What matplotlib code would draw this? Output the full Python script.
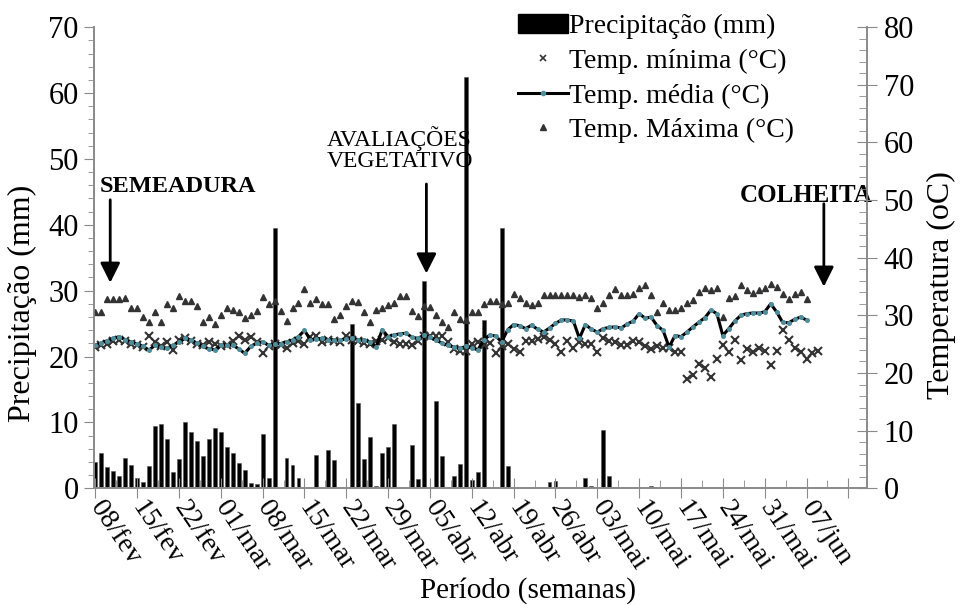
import numpy as np
import matplotlib
matplotlib.use('Agg')
import matplotlib.pyplot as plt
from matplotlib.lines import Line2D
from matplotlib.patches import Patch

plt.rcParams['font.family'] = ['Liberation Serif', 'DejaVu Serif']

# weekly labels, first day = 08/fev
week_labels = ['08/fev', '15/fev', '22/fev', '01/mar', '08/mar', '15/mar',
               '22/mar', '29/mar', '05/abr', '12/abr', '19/abr', '26/abr',
               '03/mai', '10/mai', '17/mai', '24/mai', '31/mai', '07/jun']

# daily precipitation (mm), day 0 = 08/fev
precip_mm = [4.0, 5.3, 3.2, 2.6, 1.9, 4.6, 3.5, 1.6, 1.0, 3.4,
             9.5, 9.8, 7.4, 2.5, 4.5, 10.1, 8.6, 7.1, 4.9, 7.4,
             9.2, 8.6, 6.2, 5.3, 3.9, 2.8, 0.8, 0.7, 8.2, 1.6,
             39.5, 0, 4.6, 3.5, 1.6, 0, 0, 5.1, 0, 5.8,
             4.3, 0, 0, 25.0, 12.9, 4.5, 7.8, 0.3, 5.3, 6.2,
             9.8, 0, 0, 6.5, 1.4, 31.5, 0, 13.3, 4.9, 0,
             1.9, 3.7, 62.5, 1.3, 2.4, 25.6, 0, 0, 39.5, 3.4,
             0, 0, 0, 0, 0, 0, 1.0, 1.1, 0, 0,
             0, 0, 1.6, 0.35, 0, 8.9, 1.9, 0, 0, 0,
             0, 0, 0, 0.35]

# daily temperatures (C)
temp_min = [24.5, 24.8, 25.0, 25.5, 25.8, 25.5, 25.0, 24.8, 24.5, 26.5,
            25.4, 24.6, 25.4, 24.0, 25.8, 26.0, 25.5, 25.0, 24.8, 25.4,
            25.0, 24.6, 24.8, 25.6, 26.5, 25.8, 26.3, 25.4, 23.4, 24.6,
            25.0, 24.8, 24.4, 25.2, 25.6, 25.0, 26.3, 26.5, 25.4, 25.8,
            25.5, 25.3, 26.5, 25.8, 25.6, 25.2, 25.0, 25.6, 25.8, 26.0,
            25.4, 25.1, 25.1, 24.9, 25.6, 26.5, 26.5, 26.5, 26.4, 25.4,
            24.1, 23.9, 23.9, 25.0, 25.4, 24.9, 25.2, 23.4, 24.6, 25.0,
            24.2, 23.7, 25.6, 25.6, 25.9, 26.2, 25.8, 25.0, 23.7, 25.6,
            24.4, 25.3, 25.0, 25.0, 23.7, 26.0, 25.5, 25.4, 24.9, 24.9,
            25.6, 25.4, 24.6, 24.1, 24.6, 24.4, 24.4, 23.7, 23.7, 19.0,
            19.6, 21.6, 20.9, 19.3, 22.5, 24.8, 23.7, 25.7, 22.2, 24.1,
            23.7, 24.4, 23.9, 21.3, 23.9, 27.5, 25.7, 24.4, 23.7, 22.5,
            23.4, 23.9]

temp_media = [24.8, 25.2, 25.6, 26.0, 26.3, 25.8, 25.4, 25.0, 24.6, 24.0,
              24.8, 24.5, 24.3, 24.8, 25.4, 26.0, 25.7, 25.2, 24.6, 24.2,
              24.0, 24.8, 24.9, 24.8, 24.2, 23.4, 24.6, 25.2, 25.4, 24.8,
              25.0, 25.1, 25.4, 25.7, 26.3, 27.4, 25.7, 25.9, 26.0, 25.8,
              25.7, 25.7, 25.9, 26.0, 25.8, 25.7, 25.4, 24.5, 27.5, 26.3,
              26.6, 26.8, 26.9, 26.2, 26.0, 26.6, 26.2, 25.7, 25.2, 24.8,
              24.5, 24.3, 24.6, 24.4, 24.0, 25.7, 26.6, 26.4, 25.4, 27.5,
              28.4, 28.2, 27.7, 28.3, 27.6, 27.1, 27.8, 28.6, 29.2, 29.2,
              29.0, 26.0, 28.4, 27.6, 27.1, 27.7, 27.9, 28.0, 27.8, 28.5,
              29.0, 30.3, 29.5, 29.7, 28.2, 27.4, 24.5, 26.5, 26.3, 27.1,
              28.0, 28.8, 29.6, 30.9, 30.3, 26.5, 27.7, 29.0, 30.0, 30.3,
              30.4, 30.4, 30.6, 32.0, 30.6, 28.8, 28.7, 29.3, 29.7, 29.2]

temp_max = [30.6, 30.6, 32.8, 32.8, 32.8, 33.0, 31.2, 31.2, 29.8, 28.9,
            30.6, 28.8, 32.0, 31.2, 33.3, 32.5, 32.5, 31.6, 28.8, 29.7,
            28.5, 30.0, 31.2, 30.9, 30.6, 29.5, 30.0, 30.7, 33.1, 32.0,
            32.5, 30.7, 29.0, 31.2, 32.2, 34.5, 32.2, 32.8, 32.0, 32.0,
            29.4, 30.0, 31.6, 32.5, 32.3, 30.6, 28.9, 31.0, 31.2, 31.8,
            32.2, 33.3, 33.3, 30.8, 29.9, 31.6, 31.4, 30.0, 28.9, 27.9,
            30.6, 29.3, 29.2, 30.6, 30.6, 32.0, 32.5, 32.5, 32.0, 32.2,
            33.7, 33.0, 32.2, 31.8, 32.2, 33.5, 33.5, 33.5, 33.5, 33.5,
            33.5, 33.2, 33.5, 33.0, 31.2, 32.2, 33.5, 34.5, 33.5, 33.5,
            33.7, 34.7, 35.2, 33.5, 30.6, 32.2, 30.9, 31.0, 31.2, 32.2,
            32.6, 34.1, 34.7, 34.4, 34.7, 29.7, 33.0, 33.3, 35.2, 34.4,
            33.8, 34.4, 34.8, 35.4, 34.9, 33.7, 32.9, 33.7, 34.1, 32.9]


def main():
    fig = plt.figure(figsize=(9.6, 6.05), dpi=100)
    ax = fig.add_axes([0.098, 0.193, 0.805, 0.762])
    ax2 = ax.twinx()

    spine_col = '#8a8a8a'
    teal = '#4f8f9c'

    ax.bar(np.arange(len(precip_mm)), precip_mm, width=0.65,
           color='black', edgecolor='#555555', linewidth=0.4)

    ax2.plot(np.arange(len(temp_min)), temp_min, linestyle='none', marker='x',
             ms=6, mew=1.5, color='#333333')
    ax2.plot(np.arange(len(temp_media)), temp_media, color='black', lw=2.2,
             marker='o', ms=2.6, mfc=teal, mec=teal)
    ax2.plot(np.arange(len(temp_max)), temp_max, linestyle='none', marker='^',
             ms=4.5, color='#333333')

    ax.set_xlim(-0.2, 129.1)
    ax.set_ylim(0, 70)
    ax2.set_ylim(0, 80)

    ax.set_yticks(np.arange(0, 71, 10))
    ax.set_yticks(np.arange(0, 71, 2), minor=True)
    ax2.set_yticks(np.arange(0, 81, 10))
    ax2.set_yticks(np.arange(0, 81, 2), minor=True)
    ax.set_xticks(np.arange(0, 127, 7))
    ax.set_xticks(np.arange(3.5, 129, 7), minor=True)
    ax.set_xticklabels(week_labels + [''], rotation=-56, ha='left',
                       va='center', rotation_mode='anchor')

    for a in (ax, ax2):
        a.spines['top'].set_visible(False)
        for s in ('left', 'right', 'bottom'):
            a.spines[s].set_color(spine_col)
            a.spines[s].set_linewidth(1.2)

    ax.tick_params(axis='y', which='major', direction='out', length=7,
                   color=spine_col, labelsize=22, pad=4)
    ax.tick_params(axis='y', which='minor', direction='out', length=4,
                   color=spine_col)
    ax.tick_params(axis='x', which='major', direction='inout', length=14,
                   color=spine_col, labelsize=20, pad=4)
    ax.tick_params(axis='x', which='minor', direction='in', length=6,
                   color=spine_col)
    ax2.tick_params(axis='y', which='major', direction='inout', length=14,
                    color=spine_col, labelsize=22, pad=5)
    ax2.tick_params(axis='y', which='minor', direction='in', length=6,
                    color=spine_col)

    ax.set_ylabel('Precipitação (mm)', fontsize=23)
    ax.yaxis.set_label_coords(-0.074, 0.4)
    ax2.set_ylabel('Temperatura (oC)', fontsize=23, rotation=90)
    ax2.yaxis.set_label_coords(1.078, 0.44)
    ax.set_xlabel('Período (semanas)', fontsize=21)
    ax.xaxis.set_label_coords(0.562, -0.193)

    arrow = dict(arrowstyle='-|>', color='black', lw=2, mutation_scale=30,
                 shrinkA=0, shrinkB=0)
    ax.annotate('', xy=(2.5, 31.2), xytext=(2.5, 43.8), arrowprops=arrow)
    ax.text(0.8, 45.8, 'SEMEADURA', fontsize=17.5, fontweight='bold',
            va='center', ha='left')
    ax.annotate('', xy=(55.4, 32.6), xytext=(55.4, 46.2), arrowprops=arrow)
    ax.text(38.8, 51.5, 'AVALIAÇÕES\nVEGETATIVO', fontsize=17,
            va='center', ha='left', linespacing=1.0)
    ax.annotate('', xy=(121.9, 30.6), xytext=(121.9, 43.2), arrowprops=arrow)
    ax.text(107.9, 44.4, 'COLHEITA', fontsize=18, fontweight='bold',
            va='center', ha='left')

    handles = [
        Patch(facecolor='black', edgecolor='black'),
        Line2D([], [], linestyle='none', marker='x', ms=5, mew=1.2,
               color='#333333'),
        Line2D([], [], color='black', lw=2.2, marker='o', ms=3,
               mfc=teal, mec=teal),
        Line2D([], [], linestyle='none', marker='^', ms=4, color='#333333'),
    ]
    labels = ['Precipitação (mm)', 'Temp. mínima (°C)', 'Temp. média (°C)',
              'Temp. Máxima (°C)']
    fig.legend(handles, labels, loc='upper left',
               bbox_to_anchor=(0.525, 1.0), frameon=False, fontsize=20,
               handlelength=1.8, handletextpad=0.05, labelspacing=0.33,
               borderpad=0.0)

    fig.savefig('out.png', dpi=100)


if __name__ == '__main__':
    main()
